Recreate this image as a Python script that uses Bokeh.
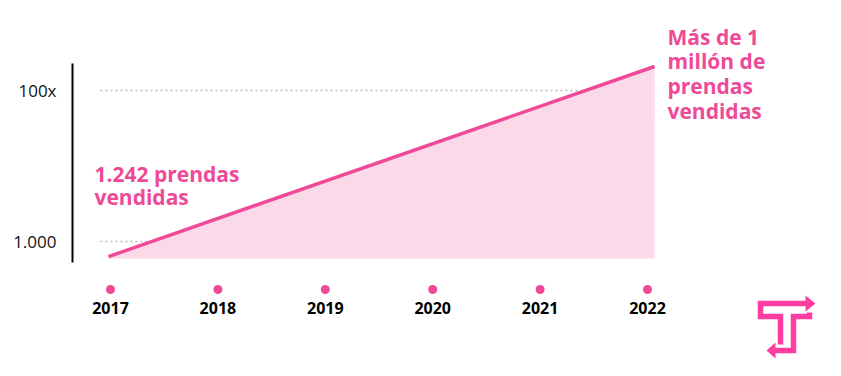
from bokeh.plotting import figure
from bokeh.models import Range1d, FixedTicker, LinearScale
from bokeh.core.properties import value
from bokeh.embed import file_html
from bokeh.resources import INLINE

# ---- data ----
years = [2017, 2018, 2019, 2020, 2021, 2022]
year_labels = ["2017", "2018", "2019", "2020", "2021", "2022"]
line_years = [2017, 2022]
prendas = [632, 208000]
fill_base = [596, 596]
y_ticks = [1000, 100000]
y_tick_labels = ["1.000", "100x"]
left_text = ["1.242 prendas", "vendidas"]
right_text = ["Más de 1", "millón de", "prendas", "vendidas"]

PINK = "#EE4A97"
FILL = "#FCD9E8"
LOGO = "#FF3CA0"
FONT = "Open Sans"

W, H = 835, 370
LEFT = 72

p = figure(width=W, height=H, output_backend="svg", toolbar_location=None,
           x_axis_type=None, y_axis_type="log",
           x_range=Range1d(2016.670, 2023.657), y_range=Range1d(19.56, 1.556e6),
           min_border_left=LEFT, min_border_right=0, min_border_top=0, min_border_bottom=0)
p.extra_x_ranges = {"px": Range1d(LEFT, W), "yr": Range1d(2016.6462, 2023.7505)}
p.extra_y_ranges = {"px": Range1d(H, 0)}
p.extra_y_scales = {"px": LinearScale()}
p.outline_line_color = None
p.ygrid.visible = False
p.background_fill_color = "white"
p.border_fill_color = "white"

ya = p.yaxis[0]
ya.bounds = (527, 228000)
ya.ticker = FixedTicker(ticks=y_ticks, minor_ticks=[])
ya.major_label_overrides = {t: l for t, l in zip(y_ticks, y_tick_labels)}
ya.axis_line_width = 2
ya.axis_line_color = "black"
ya.major_tick_line_color = None
ya.minor_tick_line_color = None
ya.major_label_standoff = 10
ya.major_label_text_font = FONT
ya.major_label_text_font_size = "17px"
ya.major_label_text_color = "#111111"

# dotted guide lines, covered by the fill
grid_x0 = p.x_range.start + 0.256
for t in y_ticks:
    p.segment(x0=grid_x0, y0=t, x1=line_years[-1], y1=t,
              line_color="#BBBBBB", line_width=1.6, line_dash="2 3")

p.varea(x=line_years, y1=fill_base, y2=prendas, fill_color=FILL)
p.line(x=line_years, y=prendas, line_color=PINK, line_width=3.5)

# annotations
p.text(x=[94] * len(left_text), y=[173 + 23 * i for i in range(len(left_text))], text=left_text,
       x_range_name="px", y_range_name="px", text_font=value(FONT), text_font_style="bold",
       text_font_size="21px", text_color=PINK, text_baseline="alphabetic", text_align="left")
p.text(x=[667] * len(right_text), y=[36 + 24.7 * i for i in range(len(right_text))], text=right_text,
       x_range_name="px", y_range_name="px", text_font=value(FONT), text_font_style="bold",
       text_font_size="21px", text_color=PINK, text_baseline="alphabetic", text_align="left")

# year markers and labels
p.scatter(x=years, y=[289] * len(years), x_range_name="yr", y_range_name="px",
          size=9, fill_color=PINK, line_color=None)
p.text(x=years, y=[307] * len(years), text=year_labels, x_range_name="yr", y_range_name="px",
       text_font=value(FONT), text_font_style="bold", text_font_size="16px",
       text_color="black", text_align="center", text_baseline="alphabetic")

# logo
p.line(x=[780, 780, 760, 760, 806], y=[344, 316, 316, 303, 303], x_range_name="px", y_range_name="px",
       line_color=LOGO, line_width=5.5, line_join="miter")
p.patch(x=[805, 815, 805], y=[295, 303, 311], x_range_name="px", y_range_name="px",
        fill_color=LOGO, line_color=None)
p.line(x=[809, 809, 793, 793, 774], y=[312, 316, 316, 350, 350], x_range_name="px", y_range_name="px",
       line_color=LOGO, line_width=5.5, line_join="miter")
p.patch(x=[775, 766, 775], y=[342, 350, 358], x_range_name="px", y_range_name="px",
        fill_color=LOGO, line_color=None)

open("out.html", "w").write(file_html(p, INLINE))
